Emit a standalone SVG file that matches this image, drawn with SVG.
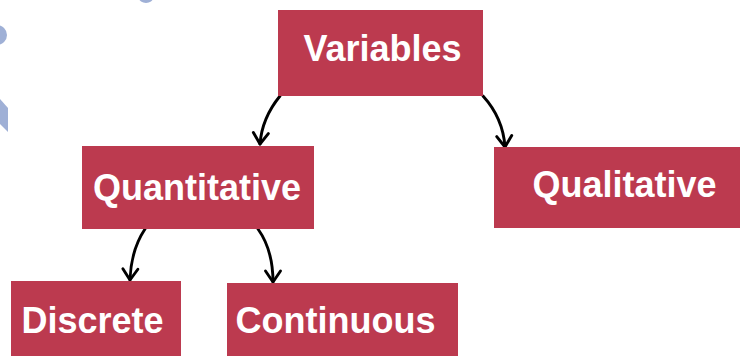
<svg xmlns="http://www.w3.org/2000/svg" width="740" height="356" viewBox="0 0 740 356">
  <style>
    .box { fill: #BC3A4F; }
    .lbl { fill: #FFFFFF; font-family: "Liberation Sans", Arial, sans-serif; font-weight: bold; font-size: 36px; text-anchor: middle; }
    .edge { fill: none; stroke: #000000; stroke-width: 2.9; stroke-linecap: round; }
    .deco { fill: #9FB0D6; }
  </style>
  <defs>
    <marker id="vhead" markerUnits="userSpaceOnUse" markerWidth="22" markerHeight="22" viewBox="-14 -11 18 22" refX="0" refY="0" orient="auto">
      <path d="M-11,-7.5 L0,0 L-11,7.5" fill="none" stroke="#000000" stroke-width="2.9" stroke-linecap="round" stroke-linejoin="round"/>
    </marker>
  </defs>

  <rect width="740" height="356" fill="#FFFFFF"/>

  <!-- light blue background fragments -->
  <g id="decor">
    <circle class="deco" cx="-3" cy="35" r="10"/>
    <polygon class="deco" points="0,99 8,108 8,132 0,124"/>
    <ellipse class="deco" cx="146" cy="-2" rx="7" ry="5"/>
  </g>

  <!-- connectors -->
  <g id="connectors">
    <path class="edge" d="M280,96 Q262,118 260,144" marker-end="url(#vhead)"/>
    <path class="edge" d="M483,96 Q503,118 505,147" marker-end="url(#vhead)"/>
    <path class="edge" d="M145,229 Q131,250 130,280" marker-end="url(#vhead)"/>
    <path class="edge" d="M258,229 Q273,250 273,282" marker-end="url(#vhead)"/>
  </g>

  <g id="variables">
    <rect class="box" x="278" y="10" width="205" height="86"/>
    <text class="lbl" x="382.5" y="61">Variables</text>
  </g>
  <g id="quantitative">
    <rect class="box" x="82" y="146" width="232" height="83"/>
    <text class="lbl" x="197" y="200">Quantitative</text>
  </g>
  <g id="qualitative">
    <rect class="box" x="494" y="147" width="246" height="81"/>
    <text class="lbl" x="624.5" y="197">Qualitative</text>
  </g>
  <g id="discrete">
    <rect class="box" x="11" y="281" width="170" height="80"/>
    <text class="lbl" x="92.5" y="333">Discrete</text>
  </g>
  <g id="continuous">
    <rect class="box" x="227" y="283" width="231" height="78"/>
    <text class="lbl" x="335.5" y="333">Continuous</text>
  </g>
</svg>
